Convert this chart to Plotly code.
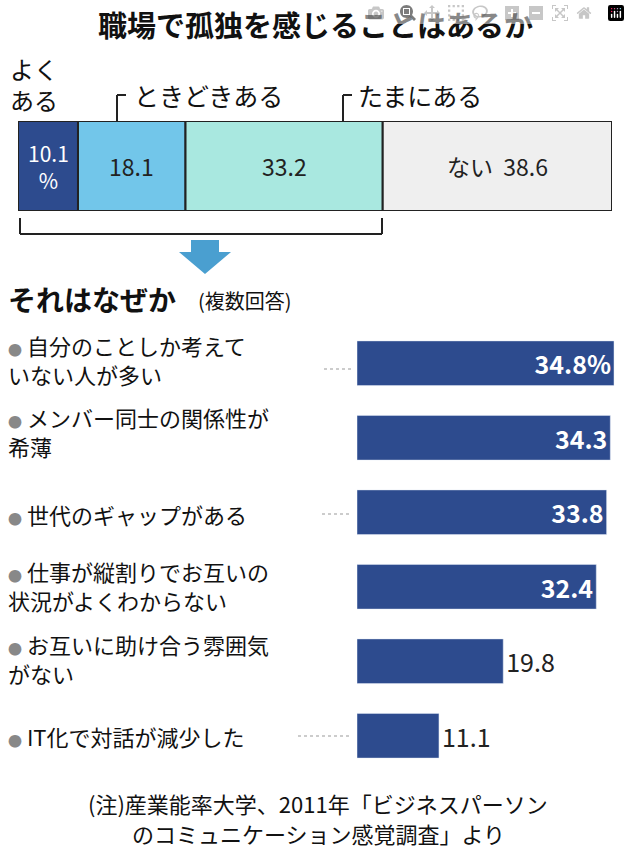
import plotly.graph_objects as go

W, H = 630, 859
top_labels = ["よくある", "ときどきある", "たまにある", "ない"]
top_values = [10.1, 18.1, 33.2, 38.6]
top_colors = ["#2d4b8e", "#72c6ea", "#a9e8e0", "#efefef"]
top_text = ["10.1<br>%", "18.1", "33.2", "ない  38.6"]
top_text_colors = ["white", "#222", "#222", "#222"]

reasons = ["自分のことしか考えて<br>いない人が多い", "メンバー同士の関係性が<br>希薄", "世代のギャップがある",
           "仕事が縦割りでお互いの<br>状況がよくわからない", "お互いに助け合う雰囲気<br>がない", "IT化で対話が減少した"]
reason_values = [34.8, 34.3, 33.8, 32.4, 19.8, 11.1]
reason_text = ["<b>34.8%</b>", "<b>34.3</b>", "<b>33.8</b>", "<b>32.4</b>", "19.8", "11.1"]

F = "Noto Sans CJK JP"
def px(x): return x / W
def py(y): return 1 - y / H

fig = go.Figure()
base = 0
for v, c, t, tc in zip(top_values, top_colors, top_text, top_text_colors):
    fig.add_trace(go.Bar(x=[v], y=[0], base=base, orientation="h", marker=dict(color=c, line=dict(color="#222", width=2)),
                         width=1, xaxis="x", yaxis="y", showlegend=False, hoverinfo="skip"))
    fig.add_annotation(x=base + v / 2, y=0, xref="x", yref="y", text=t, showarrow=False,
                       font=dict(family=F, size=23 if v > 11 else 21, color=tc))
    base += v

pos = ["inside"] * 4 + ["outside"] * 2
fig.add_trace(go.Bar(x=reason_values, y=list(range(6)), orientation="h", marker=dict(color="#2d4b8e"), width=0.6,
                     text=reason_text, textposition=pos, insidetextanchor="end", cliponaxis=False,
                     textfont=dict(family=F, size=25, color=["white"] * 4 + ["#222"] * 2),
                     xaxis="x2", yaxis="y2", showlegend=False, hoverinfo="skip"))

scale = (614 - 357) / 34.8
fig.update_layout(
    width=W, height=H, margin=dict(l=0, r=0, t=0, b=0), paper_bgcolor="white", plot_bgcolor="white",
    barmode="overlay", font=dict(family=F),
    xaxis=dict(domain=[px(18), px(612)], range=[0, 100], visible=False),
    yaxis=dict(domain=[py(211), py(121)], range=[-0.5, 0.5], visible=False),
    xaxis2=dict(domain=[px(357), 1], range=[0, 273 / scale], visible=False),
    yaxis2=dict(domain=[py(773), py(326)], range=[5.5, -0.5], visible=False),
)

def txt(x, y, t, size=24, xanchor="left"):
    fig.add_annotation(x=px(x), y=py(y), xref="paper", yref="paper", text=t, showarrow=False, xanchor=xanchor,
                       yanchor="middle", align="left", font=dict(family=F, size=size, color="#111"))
txt(315, 24, "<b>職場で孤独を感じることはあるか</b>", 29, "center")
txt(8, 84, "よく<br>ある", 24)
txt(132, 95, "ときどきある", 25)
txt(356, 95, "たまにある", 25)
txt(6, 299, "<b>それはなぜか</b>", 28)
txt(196, 300, "(複数回答)", 20)
txt(318, 803, "(注)産業能率大学、2011年「ビジネスパーソン", 22, "center")
txt(318, 833, "のコミュニケーション感覚調査」より", 22, "center")

centers = [363, 435, 514, 589, 662, 736]
text_ends = [318, 0, 316, 0, 0, 292]
for i, (r, cy) in enumerate(zip(reasons, centers)):
    two = "<br>" in r
    ty = cy - 4 if two else cy
    txt(6, ty, "<span style='color:#888;font-size:14px'>●</span> " + r, 22)
    if text_ends[i]:
        yy = cy + 6 if two else cy
        fig.add_shape(type="line", xref="paper", yref="paper", x0=px(text_ends[i] + 6), x1=px(352),
                      y0=py(yy), y1=py(yy), line=dict(color="#999", width=1, dash="dot"))

lines = [
    (117, 95, 117, 122), (117, 95, 126, 95),
    (343, 95, 343, 122), (343, 95, 352, 95),
    (20, 218, 20, 234), (20, 234, 382, 234), (382, 234, 382, 218),
]
for x0, y0, x1, y1 in lines:
    fig.add_shape(type="line", xref="paper", yref="paper", x0=px(x0), y0=py(y0), x1=px(x1), y1=py(y1),
                  line=dict(color="#222", width=2))
fig.add_shape(type="path", xref="paper", yref="paper",
              path=f"M {px(191)} {py(240)} L {px(219)} {py(240)} L {px(219)} {py(252)} L {px(231)} {py(252)} L {px(205)} {py(274)} L {px(179)} {py(252)} L {px(191)} {py(252)} Z",
              fillcolor="#4a9fd0", line=dict(width=0))

fig.write_html("out.html", post_script="document.body.style.margin='0';")
